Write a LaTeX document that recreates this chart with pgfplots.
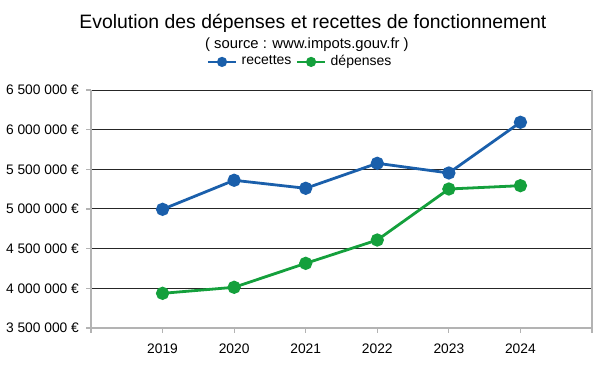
\documentclass[border=0pt]{standalone}
\usepackage{fontspec}
\setmainfont{Liberation Sans}
\usepackage{pgfplots}
\pgfplotsset{compat=1.18}
\definecolor{cblue}{HTML}{1A5FAB}
\definecolor{cgreen}{HTML}{14A03C}
\definecolor{axgray}{HTML}{B3B3B3}
\begin{document}
\begin{tikzpicture}
\useasboundingbox (-45.5pt,-20pt) rectangle (254.5pt,164pt);
\begin{axis}[
  at={(0pt,0pt)}, anchor=south west,
  scale only axis, width=250.5pt, height=119pt,
  xmin=2018, xmax=2025, ymin=3500000, ymax=6500000,
  scaled y ticks=false,
  axis x line*=bottom, axis y line*=left,
  axis line style={axgray, line width=0.6pt},
  xtick={2018,2019,2020,2021,2022,2023,2024},
  xticklabels={,2019,2020,2021,2022,2023,2024},
  extra x ticks={2025}, extra x tick labels={},
  extra x tick style={grid=major, major grid style={axgray, line width=0.6pt}},
  ytick={3500000,4000000,4500000,5000000,5500000,6000000,6500000},
  yticklabels={3 500 000 €,4 000 000 €,4 500 000 €,5 000 000 €,5 500 000 €,6 000 000 €,6 500 000 €},
  ymajorgrids, major grid style={black!85, line width=0.5pt},
  tick align=outside, major tick length=2.5pt,
  tick style={axgray, line width=0.6pt},
  tick label style={font=\fontsize{6.9}{8}\selectfont, black},
  xticklabel style={yshift=-2pt},
  legend columns=2,
  legend style={at={(0.419,1.118)}, anchor=center, draw=none, fill=none,
    font=\fontsize{7}{8}\selectfont, inner sep=0pt,
    /tikz/every even column/.append style={column sep=0pt}},
  legend image code/.code={\draw[mark repeat=2,mark phase=2,mark size=1.8pt] plot coordinates {(0cm,0cm) (0.25cm,0cm) (0.5cm,0cm)};},
  legend cell align=left,
  clip=false,
]
\addplot[cblue, line width=1.4pt, mark=*, mark size=2.6pt] coordinates {
 (2019,4996000) (2020,5362000) (2021,5261000) (2022,5576000) (2023,5454000) (2024,6093000)};
\addlegendentry{recettes}
\addplot[cgreen, line width=1.4pt, mark=*, mark size=2.6pt] coordinates {
 (2019,3937000) (2020,4013000) (2021,4315000) (2022,4609000) (2023,5252000) (2024,5294000)};
\addlegendentry{dépenses}
\node[font=\fontsize{9.7}{11}\selectfont] at (axis description cs:0.443,1.282) {Evolution des dépenses et recettes de fonctionnement};
\node[font=\fontsize{7.4}{9}\selectfont] at (axis description cs:0.431,1.189) {( source : www.impots.gouv.fr )};
\end{axis}
\end{tikzpicture}
\end{document}
